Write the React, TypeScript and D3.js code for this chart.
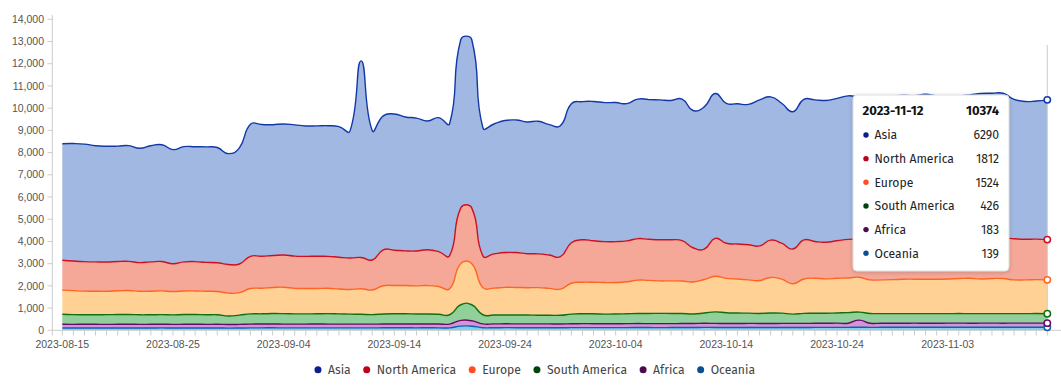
import React, { useEffect } from "react";
import * as d3 from "d3";

const W = 1061;
const H = 385;

const seriesNames = ["Asia", "North America", "Europe", "South America", "Africa", "Oceania"];

const dates = d3.utcDay.range(new Date(Date.UTC(2023, 7, 15)), new Date(Date.UTC(2023, 10, 13)));

const asia = [
  5250, 5290, 5290, 5230, 5210, 5190, 5210, 5150, 5230, 5260,
  5140, 5190, 5170, 5200, 5190, 4990, 5230, 5950, 5930, 5890,
  5900, 5910, 5870, 5870, 5880, 5880, 5720, 8850, 5830, 6030,
  6130, 6030, 5980, 5800, 6030, 5950, 7580, 7580, 5770, 5850,
  5940, 5970, 5930, 5970, 5870, 5890, 6260, 6220, 6270, 6260,
  6260, 6180, 6280, 6290, 6300, 6270, 6370, 6180, 6400, 6520,
  6300, 6310, 6320, 6570, 6450, 6300, 6180, 6320, 6380, 6380,
  6410, 6460, 6400, 6400, 6420, 6450, 6460, 6460, 6520, 6460,
  6440, 6450, 6480, 6530, 6530, 6520, 6270, 6200, 6220, 6290,
];
const northAmerica = [
  1340, 1330, 1330, 1320, 1320, 1320, 1310, 1290, 1320, 1320,
  1250, 1310, 1320, 1300, 1290, 1290, 1290, 1450, 1440, 1440,
  1450, 1450, 1450, 1450, 1440, 1430, 1420, 1410, 1350, 1620,
  1590, 1560, 1570, 1610, 1570, 1490, 2500, 2500, 1430, 1540,
  1570, 1570, 1530, 1520, 1500, 1460, 1820, 1910, 1870, 1840,
  1840, 1840, 1870, 1850, 1850, 1850, 1820, 1540, 1370, 1710,
  1580, 1580, 1580, 1560, 1680, 1620, 1560, 1760, 1650, 1650,
  1690, 1740, 1710, 1810, 1830, 1820, 1820, 1800, 1810, 1790,
  1770, 1770, 1780, 1820, 1810, 1820, 1850, 1830, 1820, 1812,
];
const europe = [
  1090, 1080, 1060, 1060, 1050, 1070, 1080, 1060, 1060, 1070,
  1050, 1060, 1060, 1060, 1050, 1030, 1010, 1140, 1150, 1170,
  1190, 1150, 1140, 1140, 1140, 1120, 1110, 1150, 1110, 1270,
  1270, 1270, 1270, 1280, 1250, 1170, 1850, 1850, 1220, 1210,
  1240, 1240, 1230, 1240, 1210, 1180, 1390, 1420, 1420, 1420,
  1420, 1440, 1500, 1490, 1460, 1470, 1460, 1440, 1510, 1600,
  1550, 1530, 1500, 1480, 1600, 1530, 1370, 1550, 1580, 1550,
  1560, 1560, 1570, 1510, 1520, 1530, 1550, 1550, 1550, 1550,
  1560, 1580, 1590, 1560, 1580, 1580, 1520, 1520, 1530, 1524,
];
const southAmerica = [
  450, 440, 430, 430, 440, 440, 440, 430, 430, 430,
  430, 440, 440, 430, 430, 385, 420, 460, 460, 470,
  470, 460, 460, 460, 470, 460, 450, 440, 430, 450,
  460, 460, 450, 450, 440, 420, 705, 720, 410, 400,
  400, 400, 400, 390, 390, 390, 435, 445, 445, 435,
  435, 445, 455, 455, 465, 455, 455, 430, 460, 520,
  480, 470, 460, 450, 475, 460, 415, 450, 450, 450,
  460, 475, 360, 440, 430, 430, 430, 430, 430, 430,
  430, 430, 430, 430, 430, 430, 430, 430, 430, 426,
];
const africa = [
  165, 163, 166, 165, 162, 164, 166, 163, 165, 167,
  162, 164, 166, 163, 165, 160, 162, 170, 171, 172,
  170, 169, 170, 171, 170, 169, 168, 170, 168, 172,
  173, 172, 171, 172, 171, 170, 255, 245, 172, 171,
  173, 172, 171, 172, 171, 170, 175, 177, 176, 175,
  176, 177, 179, 178, 177, 178, 179, 180, 186, 182,
  180, 181, 183, 182, 179, 183, 184, 183, 185, 186,
  190, 187, 320, 185, 186, 184, 185, 186, 185, 184,
  185, 186, 184, 185, 184, 183, 184, 183, 184, 183,
];
const oceania = [
  105, 104, 106, 105, 103, 105, 106, 104, 105, 107,
  103, 105, 106, 104, 105, 100, 103, 110, 111, 112,
  110, 109, 110, 111, 110, 109, 108, 110, 108, 112,
  113, 112, 111, 112, 111, 110, 190, 185, 118, 117,
  119, 118, 117, 118, 117, 116, 120, 122, 121, 120,
  121, 122, 124, 123, 122, 123, 124, 126, 130, 128,
  127, 126, 128, 127, 124, 128, 129, 128, 130, 131,
  132, 133, 140, 133, 134, 135, 134, 135, 134, 135,
  136, 137, 136, 137, 138, 137, 138, 138, 139, 139,
];

const yTicks = [0, 1000, 2000, 3000, 4000, 5000, 6000, 7000, 8000, 9000, 10000, 11000, 12000, 13000, 14000];
const xTickLabels = ["2023-08-15", "2023-08-25", "2023-09-04", "2023-09-14", "2023-09-24", "2023-10-04", "2023-10-14", "2023-10-24", "2023-11-03"];

const seriesValues: Record<string, number[]> = {
  "Asia": asia,
  "North America": northAmerica,
  "Europe": europe,
  "South America": southAmerica,
  "Africa": africa,
  "Oceania": oceania,
};

const fillColors: Record<string, string> = {
  "Asia": "#a1b9e2",
  "North America": "#f5a898",
  "Europe": "#ffd194",
  "South America": "#92d09b",
  "Africa": "#d296d7",
  "Oceania": "#82cdeb",
};
const lineColors: Record<string, string> = {
  "Asia": "#1238a8",
  "North America": "#cc1020",
  "Europe": "#ff6420",
  "South America": "#0f7010",
  "Africa": "#680a6a",
  "Oceania": "#1060b0",
};
const dotColors: Record<string, string> = {
  "Asia": "#0a1e8c",
  "North America": "#c0001a",
  "Europe": "#ff4e20",
  "South America": "#00440d",
  "Africa": "#4d0a4d",
  "Oceania": "#0a4e91",
};

const UI_FONT = "'Fira Sans', Roboto, 'Noto Sans', sans-serif";
const AXIS_FONT = "'Liberation Sans', Arial, sans-serif";
const UI_SIZE = 12.2;

function measure(text: string, font: string): number {
  const c = document.createElement("canvas").getContext("2d");
  if (!c) return text.length * 6.5;
  c.font = font;
  return c.measureText(text).width;
}

// distance-weighted cardinal spline (line chart "smooth" style)
function splinePath(pts: [number, number][], tension: number, start: "M" | "L"): string {
  const n = pts.length;
  const cpPrev: [number, number][] = [];
  const cpNext: [number, number][] = [];
  for (let i = 0; i < n; i++) {
    const [cx, cy] = pts[i];
    if (i === 0 || i === n - 1) {
      cpPrev[i] = [cx, cy];
      cpNext[i] = [cx, cy];
      continue;
    }
    const [px, py] = pts[i - 1];
    const [nx, ny] = pts[i + 1];
    const d01 = Math.hypot(cx - px, cy - py);
    const d12 = Math.hypot(nx - cx, ny - cy);
    const sum = d01 + d12 || 1;
    const s01 = d01 / sum;
    const s12 = d12 / sum;
    cpPrev[i] = [cx - tension * s01 * (nx - px), cy - tension * s01 * (ny - py)];
    cpNext[i] = [cx + tension * s12 * (nx - px), cy + tension * s12 * (ny - py)];
  }
  const f = (v: number) => v.toFixed(2);
  let d = `${start}${f(pts[0][0])},${f(pts[0][1])}`;
  for (let i = 1; i < n; i++) {
    d += `C${f(cpNext[i - 1][0])},${f(cpNext[i - 1][1])},${f(cpPrev[i][0])},${f(cpPrev[i][1])},${f(pts[i][0])},${f(pts[i][1])}`;
  }
  return d;
}

export default function App() {
  useEffect(() => {
    document.body.style.margin = "0";
  }, []);

  const x = d3.scaleUtc().domain([dates[0], dates[dates.length - 1]]).range([62.3, 1047.3]);
  const y = d3.scaleLinear().domain([0, 14000]).range([330.3, 19.3]);

  const rows = dates.map((d, i) => {
    const r: any = { date: d };
    seriesNames.forEach((n) => (r[n] = seriesValues[n][i]));
    return r;
  });
  const stackOrder = [...seriesNames].reverse(); // Oceania at bottom
  const stacked = d3.stack<any>().keys(stackOrder)(rows);

  const T = 0.5;
  const topPts = (s: any[]) => s.map((d) => [x(d.data.date), y(d[1])] as [number, number]);
  const botPts = (s: any[]) => s.map((d) => [x(d.data.date), y(d[0])] as [number, number]);
  const areaPath = (s: any[]) => {
    const top = topPts(s);
    const bot = botPts(s).reverse();
    return splinePath(top, T, "M") + splinePath(bot, T, "L") + "Z";
  };
  const linePath = (s: any[]) => splinePath(topPts(s), T, "M");

  const hi = dates.length - 1;
  const hx = x(dates[hi]);
  const fmt = d3.utcFormat("%Y-%m-%d");
  const total = d3.sum(seriesNames, (n) => seriesValues[n][hi]);

  // legend layout
  const legendFont = `${UI_SIZE}px ${UI_FONT}`;
  const items = seriesNames.map((n) => ({ n, w: measure(n, legendFont) }));
  const totalW = items.reduce((s, it) => s + 10 + it.w, 0) + 16 * (items.length - 1);
  let cx = 533 - totalW / 2 + 3.5;
  const legendItems = items.map((it) => {
    const r = { ...it, x: cx };
    cx += 10 + it.w + 16;
    return r;
  });

  const ty0 = 95;
  const tx0 = 853;
  const tw = 156;
  const th = 176;

  return (
    <svg width={W} height={H} style={{ position: "absolute", left: 0, top: 0, display: "block" }}>
      <defs>
        <filter id="tipShadow" x="-20%" y="-20%" width="140%" height="140%">
          <feDropShadow dx="0" dy="1" stdDeviation="2" floodColor="#000" floodOpacity="0.18" />
        </filter>
      </defs>
      <rect width={W} height={H} fill="#fff" />

      {/* areas */}
      {stacked.map((s) => (
        <path key={"a" + s.key} d={areaPath(s)} fill={fillColors[s.key]} stroke="none" />
      ))}
      {stacked.map((s) => (
        <path key={"l" + s.key} d={linePath(s)} fill="none" stroke={lineColors[s.key]} strokeWidth={1.4} />
      ))}

      {/* y axis */}
      <line x1={52.3} x2={52.3} y1={15} y2={335.5} stroke="#ccc" strokeWidth={1} />
      {yTicks.map((t) => (
        <g key={"yt" + t}>
          <line x1={47.5} x2={52.3} y1={y(t)} y2={y(t)} stroke="#ccc" />
          <text
            x={44}
            y={y(t)}
            dy="0.35em"
            textAnchor="end"
            fontFamily={AXIS_FONT}
            fontSize={10.5}
            fill="#555"
          >
            {d3.format(",")(t)}
          </text>
        </g>
      ))}

      {/* x axis */}
      <line x1={52.3} x2={1061} y1={330.3} y2={330.3} stroke="#ccc" strokeWidth={1} />
      {dates.map((d, i) => (
        <line key={"xt" + i} x1={x(d)} x2={x(d)} y1={330.3} y2={335.5} stroke="#ccc" />
      ))}
      {xTickLabels.map((lab) => {
        const d = d3.utcParse("%Y-%m-%d")(lab) as Date;
        return (
          <text
            key={"xl" + lab}
            x={x(d)}
            y={348}
            textAnchor="middle"
            fontFamily={AXIS_FONT}
            fontSize={10.5}
            fill="#555"
          >
            {lab}
          </text>
        );
      })}

      {/* axis pointer */}
      <line x1={hx} x2={hx} y1={45} y2={330.3} stroke="#ccc" strokeWidth={1} />

      {/* hover markers */}
      {stacked.map((s) => (
        <circle
          key={"m" + s.key}
          cx={hx}
          cy={y(s[hi][1])}
          r={3.2}
          fill="#fff"
          stroke={lineColors[s.key]}
          strokeWidth={1.5}
        />
      ))}

      {/* tooltip */}
      <g>
        <rect x={tx0} y={ty0} width={tw} height={th} rx={4} fill="#fff" stroke="#ddd" filter="url(#tipShadow)" />
        <text x={tx0 + 9.5} y={ty0 + 20} fontFamily={UI_FONT} fontWeight={700} fontSize={13} fill="#111">
          {fmt(dates[hi])}
        </text>
        <text x={tx0 + 146} y={ty0 + 20} textAnchor="end" fontFamily={UI_FONT} fontWeight={700} fontSize={13} fill="#111">
          {total}
        </text>
        {seriesNames.map((n, i) => {
          const cy = ty0 + 40 + i * 23.65;
          return (
            <g key={"tt" + n}>
              <circle cx={tx0 + 13} cy={cy} r={2.7} fill={dotColors[n]} />
              <text x={tx0 + 21.5} y={cy} dy="0.35em" fontFamily={UI_FONT} fontSize={UI_SIZE} fill="#222">
                {n}
              </text>
              <text x={tx0 + 146} y={cy} dy="0.35em" textAnchor="end" fontFamily={UI_FONT} fontSize={UI_SIZE} fill="#222">
                {seriesValues[n][hi]}
              </text>
            </g>
          );
        })}
      </g>

      {/* legend */}
      {legendItems.map((it) => (
        <g key={"lg" + it.n}>
          <circle cx={it.x} cy={369.7} r={3.5} fill={dotColors[it.n]} />
          <text x={it.x + 10} y={369.7} dy="0.35em" fontFamily={UI_FONT} fontSize={UI_SIZE} fill="#444">
            {it.n}
          </text>
        </g>
      ))}
    </svg>
  );
}
